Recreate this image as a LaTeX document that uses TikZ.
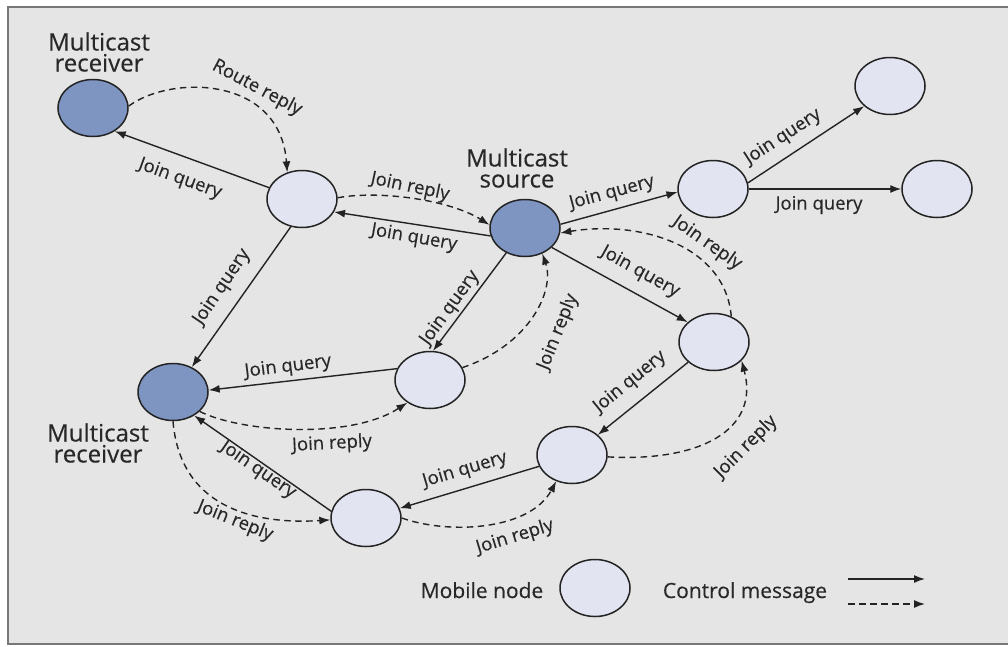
\documentclass[tikz,border=0pt]{standalone}
\usepackage{fontspec}
\setmainfont{Open Sans}
\newfontfamily\tf{Open Sans}[FakeBold=0.35]
\usetikzlibrary{arrows.meta,shapes.geometric}
\definecolor{bgc}{RGB}{229,229,229}
\definecolor{framec}{RGB}{120,120,120}
\definecolor{darkn}{RGB}{126,148,193}
\definecolor{lightn}{RGB}{226,229,241}
\definecolor{linec}{RGB}{35,35,35}
\definecolor{txtc}{RGB}{40,40,40}
\begin{document}
\begin{tikzpicture}[x=1pt,y=-1pt,
  mnode/.style={ellipse, draw=linec, line width=1.5pt, fill=lightn, minimum width=70pt, minimum height=57pt, inner sep=0pt},
  dnode/.style={mnode, fill=darkn},
  sol/.style={draw=linec, line width=1.4pt, -{Latex[length=11pt,width=8pt]}},
  dsh/.style={sol, dash pattern=on 6.5pt off 4.5pt},
  lab/.style={font=\tf\fontsize{18.5}{20}\selectfont, text=txtc, inner sep=0pt},
  big/.style={font=\tf\fontsize{24}{21}\selectfont, text=txtc, align=center, inner sep=0pt},
  leg/.style={font=\tf\fontsize{21}{21}\selectfont, text=txtc, inner sep=0pt, anchor=base}
]
\useasboundingbox (0,0) rectangle (1008,646);
\fill[white] (0,0) rectangle (1008,646);
\draw[fill=bgc, draw=framec, line width=2pt] (8,7) rectangle (1016,644);

% nodes
\node[dnode] (R1) at (93,108) {};
\node[mnode] (N1) at (302,199) {};
\node[dnode] (S) at (525,228) {};
\node[mnode] (A) at (713,189) {};
\node[mnode] (TR) at (890,86) {};
\node[mnode] (RR) at (937,189) {};
\node[mnode] (M) at (430,380) {};
\node[mnode] (B) at (714,342) {};
\node[mnode] (C) at (572,455) {};
\node[mnode] (D) at (366,518) {};
\node[dnode] (R2) at (173,392) {};
\node[mnode] (L) at (595,588) {};

% titles
\node[big] (t1) at (99,52) {Multicast\\receiver};
\node[big] (t2) at (517,168) {Multicast\\source};
\node[big] (t3) at (98,443) {Multicast\\receiver};

% connectors
\draw[sol] (N1.161) -- (R1.-47.5);
\draw[dsh] (R1.3) .. controls (170,75) and (280,75) .. (N1.119);
\draw[sol] (S.-167) -- (N1.-22);
\draw[dsh] (N1.2) .. controls (380,190) and (450,200) .. (S.175);
\draw[sol] (S.6.5) -- (A.185);
\draw[sol] (A.10) -- (TR.-142);
\draw[sol] (A.0) -- (RR.180);
\draw[dsh] (B.56) .. controls (725,245) and (640,220) .. (S.-8);
\draw[sol] (S.-36.5) -- (B.143.5);
\draw[sol] (S.-127) -- (M.84);
\draw[dsh] (M.21.5) .. controls (530,345) and (555,290) .. (S.-56);
\draw[sol] (M.161) -- (R2.3);
\draw[sol] (N1.-112.5) -- (R2.53.5);
\draw[dsh] (R2.-36.5) .. controls (240,432) and (350,440) .. (M.-135);
\draw[sol] (B.218.4) -- (C.38);
\draw[dsh] (C.-3) .. controls (700,462) and (760,430) .. (B.-34);
\draw[sol] (C.199.4) -- (D.16.4);
\draw[dsh] (D.0) .. controls (450,535) and (530,530) .. (C.-121);
\draw[sol] (D.169.7) -- (R2.-48.7);
\draw[dsh] (R2.-90) .. controls (180,505) and (250,525) .. (D.-177);

% connector labels
\node[lab, rotate=-20] (l1) at (180,179) {Join query};
\node[lab, rotate=-28] (l2) at (257,88) {Route reply};
\node[lab, rotate=-10] (l3) at (414,238) {Join query};
\node[lab, rotate=-12] (l4) at (410,187) {Join reply};
\node[lab, rotate=15] (l5) at (612,193) {Join query};
\node[lab, rotate=33] (l6) at (783,137) {Join query};
\node[lab] (l7) at (819,205) {Join query};
\node[lab, rotate=-35] (l8) at (707,243) {Join reply};
\node[lab, rotate=-29] (l9) at (640,272) {Join query};
\node[lab, rotate=54] (l10) at (450,308) {Join query};
\node[lab, rotate=68] (l11) at (558,332) {Join reply};
\node[lab, rotate=7] (l12) at (288,367) {Join query};
\node[lab, rotate=56] (l13) at (222,287) {Join query};
\node[lab, rotate=3] (l14) at (332,444) {Join reply};
\node[lab, rotate=39] (l15) at (630,382) {Join query};
\node[lab, rotate=45] (l16) at (746,447) {Join reply};
\node[lab, rotate=16.5] (l17) at (465,470) {Join query};
\node[lab, rotate=17] (l18) at (515,537) {Join reply};
\node[lab, rotate=-34.5] (l19) at (258,470) {Join query};
\node[lab, rotate=-22] (l20) at (235,521) {Join reply};

% legend
\node[leg] (lg1) at (482,598) {Mobile node};
\node[leg] (lg2) at (745,598) {Control message};
\coordinate (a1) at (848,579);
\coordinate (a2) at (925,579);
\coordinate (b1) at (848,604);
\coordinate (b2) at (925,604);
\draw[sol] (a1) -- (a2);
\draw[dsh] (b1) -- (b2);
\end{tikzpicture}
\end{document}
